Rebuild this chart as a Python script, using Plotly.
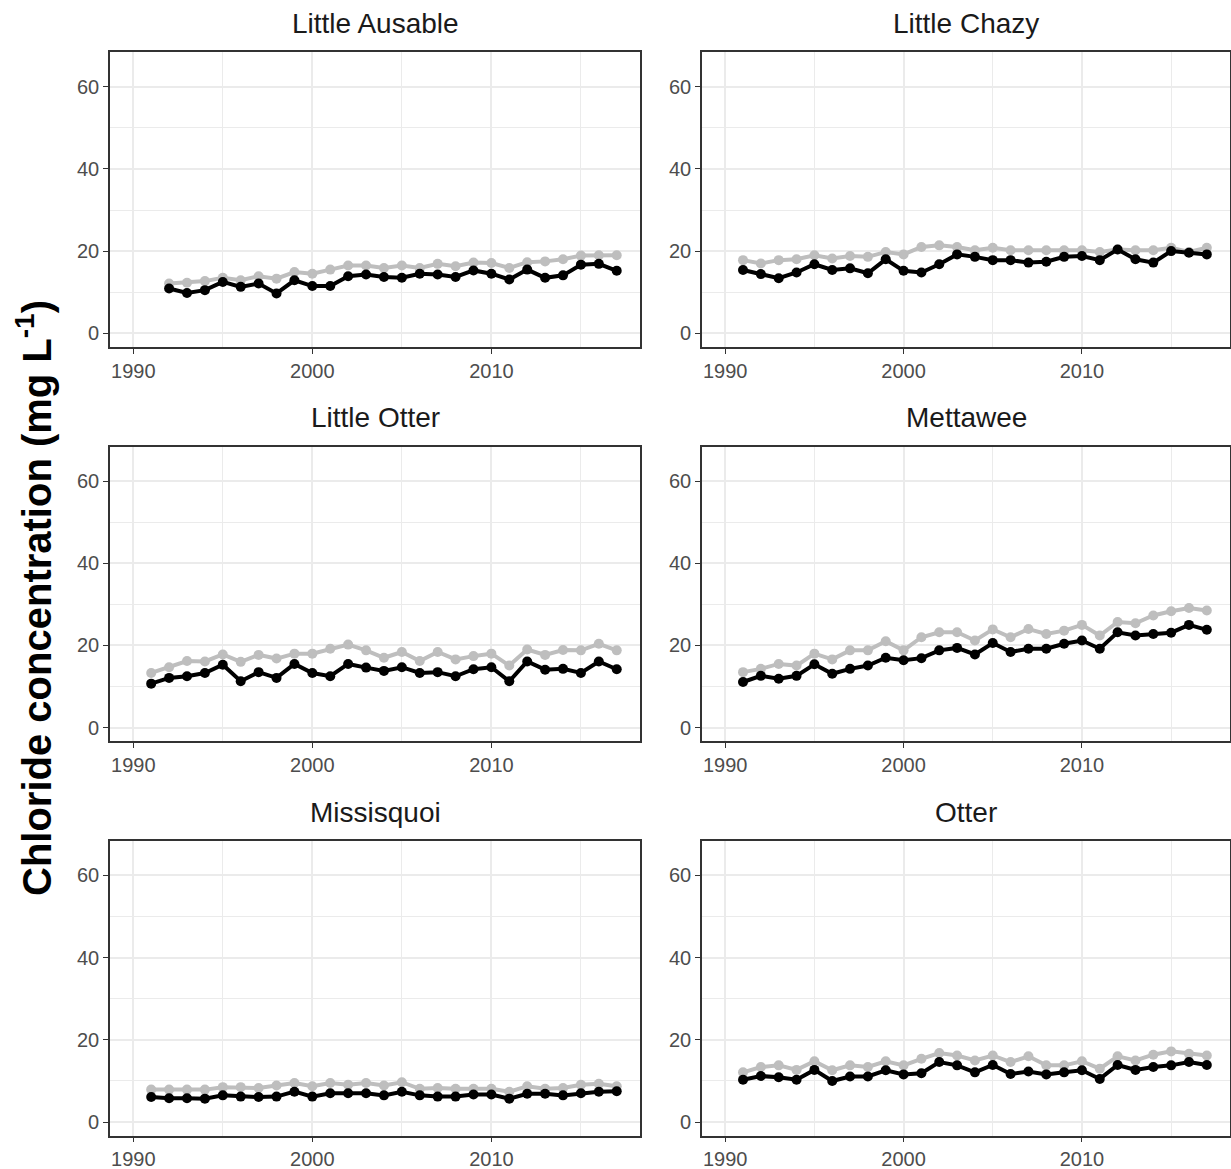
import plotly.graph_objects as go

W, H = 1231, 1169

sites = ["Little Ausable", "Little Chazy", "Little Otter", "Mettawee", "Missisquoi", "Otter"]

years_91 = list(range(1991, 2018))
years_92 = list(range(1992, 2018))

# Little Ausable (1992-2017)
la_gray = [12.1, 12.3, 12.7, 13.5, 12.9, 13.9, 13.3, 14.9, 14.5, 15.5, 16.5, 16.5, 15.9,
           16.5, 15.9, 16.9, 16.3, 17.2, 17.1, 15.9, 17.3, 17.5, 18.0, 18.9, 19.0, 19.0]
la_black = [10.9, 9.8, 10.5, 12.5, 11.3, 12.1, 9.7, 12.9, 11.5, 11.5, 13.9, 14.3, 13.7,
            13.5, 14.5, 14.3, 13.7, 15.3, 14.5, 13.1, 15.5, 13.5, 14.1, 16.7, 16.9, 15.2]

# Little Chazy (1991-2017)
lc_gray = [17.8, 17.0, 17.8, 18.0, 19.0, 18.2, 18.8, 18.6, 19.8, 19.2, 21.0, 21.4, 21.0, 20.2,
           20.8, 20.2, 20.2, 20.2, 20.2, 20.2, 19.8, 20.4, 20.2, 20.2, 20.8, 19.8, 20.8]
lc_black = [15.4, 14.4, 13.4, 14.8, 16.8, 15.4, 15.8, 14.6, 18.0, 15.2, 14.8, 16.8, 19.2, 18.6,
            17.8, 17.8, 17.2, 17.4, 18.6, 18.8, 17.8, 20.4, 18.0, 17.2, 20.0, 19.6, 19.2]

# Little Otter (1991-2017)
lo_gray = [13.3, 14.7, 16.2, 16.1, 17.8, 16.0, 17.7, 16.8, 18.0, 18.0, 19.2, 20.2, 18.8, 17.0,
           18.4, 16.2, 18.4, 16.6, 17.4, 18.0, 15.1, 19.0, 17.7, 18.9, 18.8, 20.4, 18.8]
lo_black = [10.7, 12.1, 12.5, 13.3, 15.3, 11.3, 13.5, 12.1, 15.5, 13.3, 12.5, 15.5, 14.6, 13.8,
            14.7, 13.3, 13.5, 12.5, 14.2, 14.7, 11.3, 16.1, 14.1, 14.3, 13.3, 16.1, 14.2]

# Mettawee (1991-2017)
me_gray = [13.5, 14.3, 15.5, 15.1, 18.0, 16.6, 18.8, 18.8, 21.0, 18.8, 22.0, 23.2, 23.2, 21.2,
           23.9, 22.0, 24.0, 22.8, 23.6, 25.0, 22.4, 25.7, 25.4, 27.3, 28.3, 29.1, 28.5]
me_black = [11.1, 12.6, 11.9, 12.6, 15.4, 13.1, 14.3, 15.1, 17.0, 16.4, 16.9, 18.8, 19.4, 17.8,
            20.6, 18.4, 19.2, 19.2, 20.4, 21.2, 19.2, 23.2, 22.4, 22.8, 23.1, 25.0, 23.8]

# Missisquoi (1991-2017)
mi_gray = [7.9, 7.9, 7.9, 7.9, 8.5, 8.5, 8.3, 8.9, 9.5, 8.7, 9.5, 9.1, 9.5, 8.9,
           9.7, 8.1, 8.3, 8.1, 8.1, 8.1, 7.4, 8.7, 8.1, 8.3, 9.1, 9.3, 8.7]
mi_black = [6.1, 5.8, 5.8, 5.7, 6.5, 6.2, 6.1, 6.2, 7.4, 6.2, 7.0, 7.0, 7.0, 6.5,
            7.4, 6.5, 6.2, 6.2, 6.7, 6.7, 5.7, 6.9, 6.9, 6.5, 7.0, 7.4, 7.5]

# Otter (1991-2017)
ot_gray = [12.1, 13.4, 13.8, 12.7, 14.8, 12.6, 13.8, 13.4, 14.8, 13.8, 15.4, 16.8, 16.2, 15.0,
           16.2, 14.6, 16.0, 13.8, 13.8, 14.8, 13.0, 16.0, 15.0, 16.4, 17.2, 16.6, 16.2]
ot_black = [10.3, 11.2, 10.9, 10.3, 12.7, 10.0, 11.1, 11.1, 12.6, 11.6, 11.9, 14.6, 13.8, 12.1,
            13.9, 11.7, 12.3, 11.6, 12.1, 12.6, 10.5, 13.9, 12.7, 13.4, 13.8, 14.6, 13.9]

series_years = [years_92, years_91, years_91, years_91, years_91, years_91]
series_gray = [la_gray, lc_gray, lo_gray, me_gray, mi_gray, ot_gray]
series_black = [la_black, lc_black, lo_black, me_black, mi_black, ot_black]

x_ticks = [1990, 2000, 2010]
y_ticks = [0, 20, 40, 60]

GRAY = "#BEBEBE"
BLACK = "#000000"
FONT = "Liberation Sans, Arial, sans-serif"

# panel pixel boxes
col_px = [(110, 640), (702, 1230)]
row_px = [(52.3, 346.7), (446.7, 741.0), (841.0, 1135.5)]

fig = go.Figure()
layout = dict(
    width=W, height=H,
    margin=dict(l=0, r=0, t=0, b=0),
    paper_bgcolor="white", plot_bgcolor="white",
    showlegend=False,
    font=dict(family=FONT),
)
annotations = []

for i, site in enumerate(sites):
    r, c = divmod(i, 2)
    n = i + 1
    xa = "x" if n == 1 else f"x{n}"
    ya = "y" if n == 1 else f"y{n}"
    x0, x1 = col_px[c]
    y0, y1 = row_px[r]
    xdom = [x0 / W, x1 / W]
    ydom = [1 - y1 / H, 1 - y0 / H]

    for vals, color in [(series_gray[i], GRAY), (series_black[i], BLACK)]:
        fig.add_trace(go.Scatter(
            x=series_years[i], y=vals, mode="lines+markers",
            line=dict(color=color, width=4),
            marker=dict(color=color, size=10),
            xaxis=xa, yaxis=ya, hoverinfo="skip",
        ))

    axis_common = dict(
        showline=True, mirror=True, linecolor="#333333", linewidth=1.6,
        ticks="outside", ticklen=5, tickwidth=1.4, tickcolor="#333333",
        tickfont=dict(size=20, color="#4D4D4D", family=FONT),
        showgrid=True, gridcolor="#EBEBEB", gridwidth=1.6,
        zeroline=False, automargin=False,
    )
    layout["xaxis" + ("" if n == 1 else str(n))] = dict(
        axis_common, domain=xdom, anchor=ya,
        range=[1988.7, 2018.3], tickmode="array", tickvals=x_ticks,
        ticktext=[str(v) for v in x_ticks],
        minor=dict(tickmode="array", tickvals=[1995, 2005, 2015], showgrid=True,
                   gridcolor="#EBEBEB", gridwidth=0.8),
    )
    layout["yaxis" + ("" if n == 1 else str(n))] = dict(
        axis_common, domain=ydom, anchor=xa,
        range=[-3.26, 68.37], tickmode="array", tickvals=y_ticks,
        ticktext=[str(v) for v in y_ticks],
        minor=dict(tickmode="array", tickvals=[10, 30, 50], showgrid=True,
                   gridcolor="#EBEBEB", gridwidth=0.8),
    )

    annotations.append(dict(
        text=site, xref="paper", yref="paper",
        x=(x0 + x1) / 2 / W, y=1 - (y0 - 29) / H,
        xanchor="center", yanchor="middle", showarrow=False,
        font=dict(size=28, color="#1A1A1A", family=FONT),
    ))

annotations.append(dict(
    text="<b>Chloride concentration (mg L<sup>-1</sup>)</b>",
    xref="paper", yref="paper", x=34 / W, y=1 - 598 / H,
    xanchor="center", yanchor="middle", textangle=-90, showarrow=False,
    font=dict(size=40, color="#000000", family=FONT),
))

layout["annotations"] = annotations
fig.update_layout(**layout)
fig.write_html(
    "out.html",
    config={"displayModeBar": False},
    post_script="document.body.style.margin='0';document.body.style.padding='0';"
                "document.body.style.overflow='hidden';",
)
